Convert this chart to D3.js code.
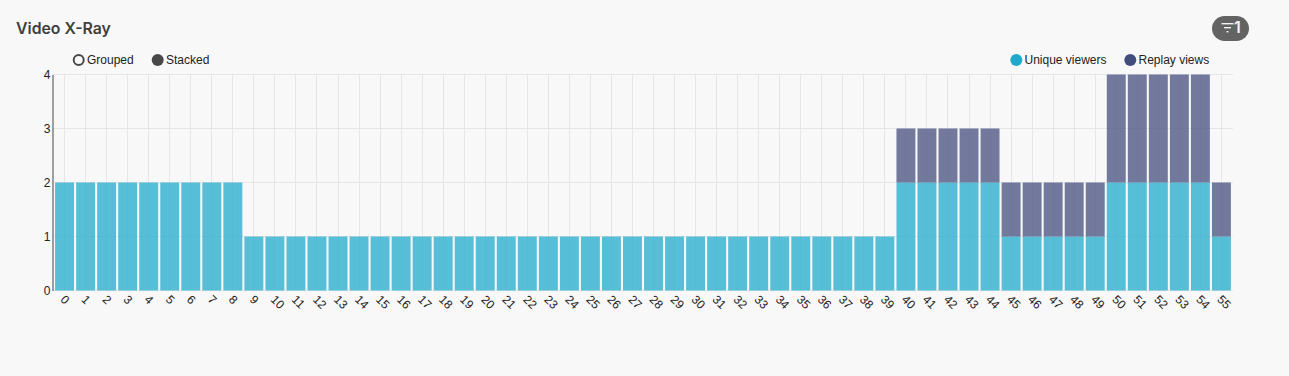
<!DOCTYPE html>
<html><head><meta charset="utf-8">
<script src="https://cdn.jsdelivr.net/npm/d3@7/dist/d3.min.js"></script>
<style>html,body{margin:0;padding:0;background:#f8f8f8;overflow:hidden}svg{display:block}</style>
</head><body><svg id="c" width="1289" height="376"></svg>
<script>
const categories = d3.range(56).map(String);
const uniqueViewers = [2,2,2,2,2,2,2,2,2,1,1,1,1,1,1,1,1,1,1,1,1,1,1,1,1,1,1,1,1,1,1,1,1,1,1,1,1,1,1,1,2,2,2,2,2,1,1,1,1,1,2,2,2,2,2,1];
const replayViews =   [0,0,0,0,0,0,0,0,0,0,0,0,0,0,0,0,0,0,0,0,0,0,0,0,0,0,0,0,0,0,0,0,0,0,0,0,0,0,0,0,1,1,1,1,1,1,1,1,1,1,2,2,2,2,2,1];
const yTicks = [0,1,2,3,4];
const seriesNames = ["Unique viewers","Replay views"];
const seriesColors = ["#1eaacb","#434d7d"];
const modes = ["Grouped","Stacked"];

const font = "'Liberation Sans',Arial,sans-serif";
const svg = d3.select("#c");
const x = d3.scaleBand().domain(categories).range([53,1233]).paddingInner(0.1).paddingOuter(0.1);
const y = d3.scaleLinear().domain([0,4]).range([290.5,74.5]);

svg.append("text").attr("x",16).attr("y",34).attr("font-family","Inter,sans-serif")
  .attr("font-size",15.8).attr("font-weight",600).attr("fill","#3f3f3f").text("Video X-Ray");

// filter badge
const badge = svg.append("g");
badge.append("rect").attr("x",1212).attr("y",16).attr("width",37).attr("height",25).attr("rx",12.5).attr("fill","#636363");
[[1221.5,1233.5],[1224,1231],[1226.5,1228.5]].forEach((p,i)=>badge.append("line")
  .attr("x1",p[0]).attr("x2",p[1]).attr("y1",23.7+i*4).attr("y2",23.7+i*4)
  .attr("stroke","#f2f2f2").attr("stroke-width",1.4));
badge.append("text").attr("x",1237.5).attr("y",33).attr("text-anchor","middle").attr("font-family","Inter,sans-serif")
  .attr("font-size",16).attr("font-weight",600).attr("fill","#f2f2f2").text("1");

// gridlines
svg.append("g").selectAll("line").data(yTicks).join("line")
  .attr("x1",53).attr("x2",1233).attr("y1",d=>y(d)).attr("y2",d=>y(d)).attr("stroke","#e6e6e6");
svg.append("g").selectAll("line").data(categories).join("line")
  .attr("x1",d=>Math.floor(x(d)+x.bandwidth()/2)+.5).attr("x2",d=>Math.floor(x(d)+x.bandwidth()/2)+.5)
  .attr("y1",y(4)).attr("y2",y(0)).attr("stroke","#e6e6e6");

// bars
const stack = d3.stack().keys([0,1]).value((i,k)=>(k===0?uniqueViewers:replayViews)[i])(d3.range(56));
stack.forEach((layer,k)=>{
  svg.append("g").selectAll("rect").data(layer.map((d,i)=>({d,i})).filter(o=>o.d[1]>o.d[0])).join("rect")
    .attr("x",o=>x(categories[o.i])).attr("width",x.bandwidth())
    .attr("y",o=>y(o.d[1])).attr("height",o=>y(o.d[0])-y(o.d[1]))
    .attr("fill",seriesColors[k]).attr("fill-opacity",.74);
});

// axes
const yAxis = svg.append("g").attr("transform","translate(52.5,0)")
  .call(d3.axisLeft(y).tickValues(yTicks).tickFormat(d3.format("d")).tickSize(0).tickPadding(2));
yAxis.select(".domain").attr("stroke","#444");
yAxis.selectAll("text").attr("font-family",font).attr("font-size",12).attr("fill","#222");

const xAxis = svg.append("g").attr("transform","translate(0,290.5)")
  .call(d3.axisBottom(x).tickSize(0).tickPadding(0));
xAxis.select(".domain").remove();
xAxis.selectAll("text").attr("font-family",font).attr("font-size",12).attr("fill","#222")
  .attr("text-anchor","start").attr("dy",null).attr("y",0)
  .attr("transform","translate(-2.6,7.6) rotate(45)").attr("dominant-baseline","middle");

// legends
const tx = (sx,t)=>svg.append("text").attr("x",sx).attr("y",64).attr("font-family",font)
  .attr("font-size",12).attr("fill","#222").text(t);
svg.append("circle").attr("cx",78.7).attr("cy",60).attr("r",5).attr("fill","none").attr("stroke","#484848").attr("stroke-width",2);
tx(87,modes[0]);
svg.append("circle").attr("cx",157.7).attr("cy",60).attr("r",6).attr("fill","#484848");
tx(166,modes[1]);
svg.append("circle").attr("cx",1016.3).attr("cy",60).attr("r",6).attr("fill",seriesColors[0]);
tx(1024.5,seriesNames[0]);
svg.append("circle").attr("cx",1130.3).attr("cy",60).attr("r",6).attr("fill",seriesColors[1]);
tx(1138.5,seriesNames[1]);
</script></body></html>
